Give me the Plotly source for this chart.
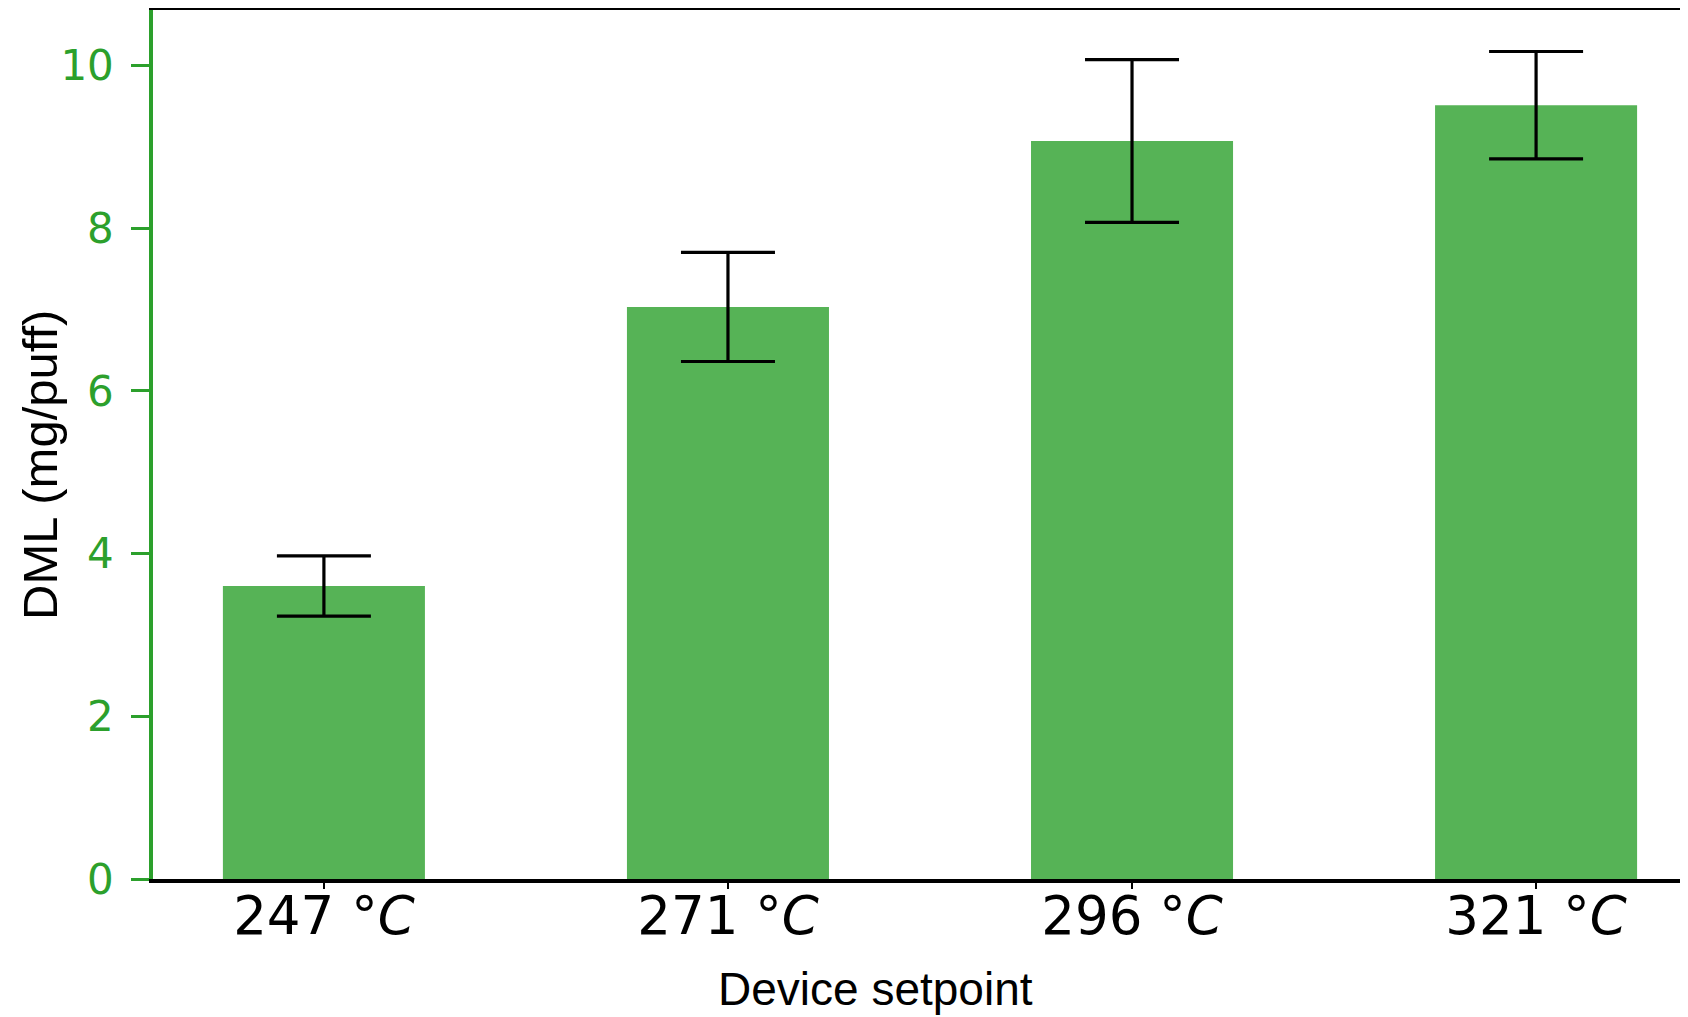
import plotly.graph_objects as go

categories = ["247 °C", "271 °C", "296 °C", "321 °C"]
dml_values = [3.60, 7.03, 9.07, 9.51]
dml_errors = [0.37, 0.67, 1.00, 0.66]
y_ticks = [0, 2, 4, 6, 8, 10]

tick_text = [c.replace("C", "<i>C</i>") for c in categories]

GREEN = "#2ca02c"
BAR = "rgba(44,160,44,0.8)"

# page body has an 8px default margin; size the figure to fill the window
OFF = 8
W, H = 1688 - OFF, 1017 - OFF
ML, MR, MT, MB = 153 - OFF, 0, 10 - OFF, 1017 - 879
PW, PH = W - ML - MR, H - MT - MB


def px_to_paper(px, py):
    return (px - OFF - ML) / PW, (H - MB - (py - OFF)) / PH


fig = go.Figure()
fig.add_trace(go.Bar(
    x=categories, y=dml_values,
    marker=dict(color=BAR, line=dict(width=0)),
    error_y=dict(type="data", array=dml_errors, visible=True,
                 color="black", thickness=3.2, width=47),
    width=0.5,
))

xl_x, xl_y = px_to_paper(875, 989)
yl_x, yl_y = px_to_paper(40, 465)

fig.update_layout(
    width=W, height=H,
    margin=dict(l=ML, r=MR, t=MT, b=MB, pad=0, autoexpand=False),
    paper_bgcolor="white", plot_bgcolor="white",
    showlegend=False,
    xaxis=dict(
        type="category", range=[-0.423, 3.376], automargin=False,
        tickvals=categories, ticktext=tick_text,
        showline=True, linecolor="black", linewidth=4, mirror=True,
        ticks="outside", ticklen=6, tickwidth=1.5, tickcolor="black",
        tickfont=dict(family="DejaVu Sans", size=53, color="black"),
        ticklabelstandoff=-19,
        showgrid=False, zeroline=False,
    ),
    yaxis=dict(
        range=[0, 10.68], tickvals=y_ticks, automargin=False,
        showline=True, linecolor=GREEN, linewidth=3.5, mirror=False,
        ticks="outside", ticklen=18, tickwidth=3, tickcolor=GREEN,
        tickfont=dict(family="DejaVu Sans", size=42, color=GREEN),
        ticklabelstandoff=9,
        showgrid=False, zeroline=False,
    ),
    annotations=[
        dict(text="Device setpoint", xref="paper", yref="paper",
             x=xl_x, y=xl_y,
             xanchor="center", yanchor="middle", showarrow=False,
             font=dict(family="Liberation Sans", size=46, color="black")),
        dict(text="DML (mg/puff)", xref="paper", yref="paper",
             x=yl_x, y=yl_y,
             xanchor="center", yanchor="middle", showarrow=False, textangle=-90,
             font=dict(family="Liberation Sans", size=49, color="black")),
    ],
)

fig.write_html("out.html")
